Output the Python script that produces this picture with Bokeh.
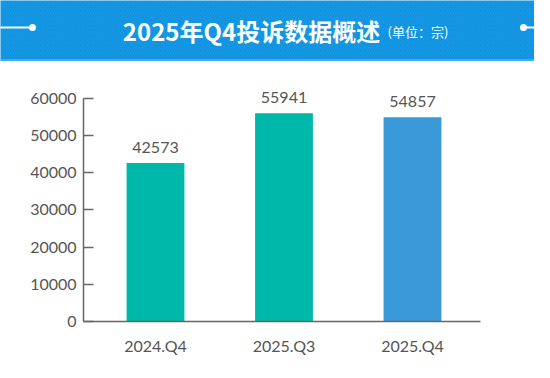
from bokeh.plotting import figure
from bokeh.models import Range1d, FixedTicker, ColumnDataSource, LinearAxis
from bokeh.core.properties import value
from bokeh.embed import file_html
from bokeh.resources import INLINE

# ---- data ----
categories = ["2024.Q4", "2025.Q3", "2025.Q4"]
counts = [42573, 55941, 54857]
bar_colors = ["#00b8a9", "#00b8a9", "#3a9ad9"]
y_ticks = [0, 10000, 20000, 30000, 40000, 50000, 60000]
title_text = "2025年Q4投诉数据概述"
unit_text = "(单位：宗)"

W, H = 534, 362
xs = list(range(len(categories)))
src = ColumnDataSource(dict(x=xs, top=counts, color=bar_colors, label=[str(v) for v in counts]))

p = figure(width=W, height=H, x_range=Range1d(-1.2062, 2.9494), y_range=Range1d(-11016, 86251),
           output_backend="svg", toolbar_location=None, min_border=0,
           x_axis_location=None, y_axis_location=None)
p.grid.visible = False
p.outline_line_color = None

# pixel-space ranges for the decorative header band
p.extra_x_ranges["px"] = Range1d(8, 542)
p.extra_y_ranges["py"] = Range1d(370, 8)
hk = dict(x_range_name="px", y_range_name="py")
p.quad(left=[0], right=[560], top=[0], bottom=[68], fill_color="#0a91e1", line_color=None,
       hatch_pattern="right_diagonal_line", hatch_color="white", hatch_alpha=0.06,
       hatch_scale=5, hatch_weight=1.5, **hk)
p.line([0, 560], [67.5, 67.5], line_color="#4aaae9", line_width=2, **hk)
p.line([0, 40], [35, 35], line_color="white", line_width=2, **hk)
p.line([531, 560], [35, 35], line_color="white", line_width=2, **hk)
p.scatter([40, 531], [35, 35], size=7, fill_color="white", line_color=None, **hk)
p.text(x=[259], y=[38], text=[title_text], text_color="white", text_font_size="24px",
       text_font_style="bold", text_font=value("Noto Sans CJK SC"),
       text_align="center", text_baseline="middle", **hk)
p.text(x=[395], y=[39], text=[unit_text], text_color="white", text_font_size="13px",
       text_font=value("Noto Sans CJK SC"), text_align="left", text_baseline="middle", **hk)

# ---- bars ----
p.vbar(x="x", top="top", width=0.45, bottom=0, fill_color="color", line_color=None, source=src)
p.text(x="x", y="top", text="label", source=src, text_align="center", text_baseline="bottom",
       y_offset=-10, text_color="#555555", text_font_size="16px", text_font=value("Lato"))

# ---- axes ----
xaxis = LinearAxis(fixed_location=0, bounds=(-0.56, 2.529))
xaxis.ticker = FixedTicker(ticks=xs)
xaxis.major_label_overrides = {i: c for i, c in zip(xs, categories)}
xaxis.major_tick_line_color = None
xaxis.minor_tick_line_color = None
xaxis.axis_line_color = "#666666"
xaxis.axis_line_width = 1.5
xaxis.major_label_standoff = 8

yaxis = LinearAxis(fixed_location=-0.56, bounds=(0, 60000))
yaxis.ticker = FixedTicker(ticks=y_ticks)
yaxis.major_tick_in = 10
yaxis.major_tick_out = 0
yaxis.minor_tick_line_color = None
yaxis.axis_line_color = "#666666"
yaxis.major_tick_line_color = "#666666"
yaxis.axis_line_width = 1.5
yaxis.major_tick_line_width = 1.5
yaxis.major_label_standoff = 7
yaxis.formatter.use_scientific = False

for ax in (xaxis, yaxis):
    ax.major_label_text_font = "Lato"
    ax.major_label_text_font_size = "16px"
    ax.major_label_text_color = "#555555"

p.add_layout(xaxis, "below")
p.add_layout(yaxis, "left")

open("out.html", "w").write(file_html(p, INLINE))
